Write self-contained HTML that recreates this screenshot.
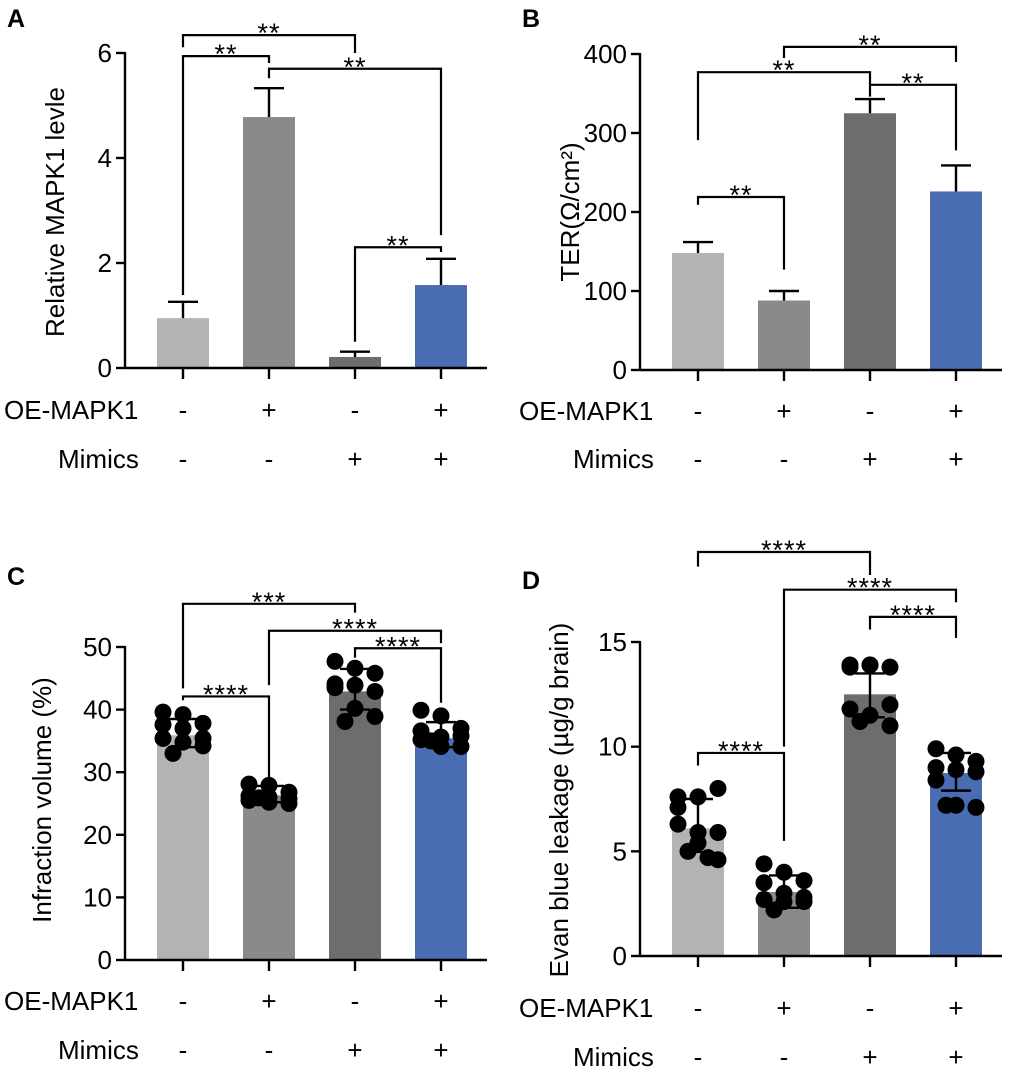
<!DOCTYPE html>
<html><head><meta charset="utf-8">
<style>
body{margin:0;background:#fff;}
svg{display:block;font-family:"Liberation Sans",Arial,sans-serif;}
</style></head>
<body>
<svg id="fig" width="1020" height="1072" viewBox="0 0 1020 1072" xmlns="http://www.w3.org/2000/svg"></svg>
<script>
// shared
const groupCategories = ["g1","g2","g3","g4"];
const oeSigns = ["-","+","-","+"];
const mimicSigns = ["-","-","+","+"];
const barColors = ["#b3b3b3","#8a8a8a","#6e6d6d","#4a6cb3"];

// Panel A
const aMeans = [0.95, 4.78, 0.21, 1.58];
const aErr = [0.31, 0.55, 0.10, 0.50];
const aTicks = [0, 2, 4, 6];
const aBrPairs = [[0,2],[0,1],[1,3],[2,3]];
const aBrY = [6.34, 5.94, 5.70, 2.30];
const aBrLegs = [[6.11,6.0],[1.39,5.81],[5.52,2.53],[0.50,2.21]];
const aBrText = ["**","**","**","**"];

// Panel B
const bMeans = [148, 88, 325, 226];
const bErr = [14, 12, 18, 33];
const bTicks = [0, 100, 200, 300, 400];
const bBrPairs = [[1,3],[0,2],[2,3],[0,1]];
const bBrY = [409, 377, 361, 219];
const bBrLegs = [[395,390],[291,362],[346,278],[209,127]];
const bBrText = ["**","**","**","**"];

// Panel C
const cMeans = [35.9, 26.3, 42.9, 35.4];
const cErrHi = [38.5, 27.8, 46.5, 38.0];
const cErrLo = [34.0, 25.2, 40.0, 34.0];
const cTicks = [0, 10, 20, 30, 40, 50];
const cPts1 = [39.6, 39.2, 37.8, 37.6, 37.0, 35.4, 35.4, 34.8, 34.2, 33.0];
const cPts2 = [28.1, 27.9, 26.8, 26.2, 26.0, 25.8, 25.5, 25.2, 25.0, 25.9];
const cPts3 = [47.7, 46.6, 45.8, 44.1, 43.9, 42.9, 43.5, 40.2, 38.9, 38.1];
const cPts4 = [39.9, 39.0, 37.0, 36.6, 35.6, 35.8, 35.2, 34.1, 34.1, 35.0];
const cBrPairs = [[0,2],[1,3],[2,3],[0,1]];
const cBrY = [56.9, 52.6, 49.8, 42.1];
const cBrLegs = [[43.4,55.5],[43.9,50.6],[48.3,41.1],[41.5,29.2]];
const cBrText = ["***","****","****","****"];

// Panel D
const dMeans = [6.1, 3.06, 12.5, 8.74];
const dErrHi = [7.5, 3.85, 13.5, 9.7];
const dErrLo = [4.97, 2.3, 11.4, 7.9];
const dTicks = [0, 5, 10, 15];
const dPts1 = [7.6, 7.6, 8.0, 7.1, 5.9, 5.9, 6.3, 5.4, 4.6, 5.0, 4.7];
const dPts2 = [4.4, 4.0, 3.6, 3.5, 3.0, 2.8, 2.7, 2.6, 2.6, 2.2];
const dPts3 = [13.9, 13.9, 13.8, 13.8, 13.9, 12.0, 11.8, 11.5, 11.0, 11.2];
const dPts4 = [9.9, 9.6, 9.3, 9.0, 8.9, 8.8, 8.4, 7.2, 7.1, 7.2];
const dBrPairs = [[0,2],[1,3],[2,3],[0,1]];
const dBrY = [19.3, 17.5, 16.2, 9.7];
const dBrLegs = [[18.6,18.2],[10.0,16.9],[15.6,15.2],[9.1,5.5]];
const dBrText = ["****","****","****","****"];

const NS = "http://www.w3.org/2000/svg";
const svg = document.getElementById("fig");
function mk(tag, attrs, parent){
  const e = document.createElementNS(NS, tag);
  for (const k in attrs) e.setAttribute(k, attrs[k]);
  (parent||svg).appendChild(e);
  return e;
}
const jitterX = [-20,0,20,-20,0,20,-20,0,20,-10,10];

function panel(cfg){
  const g = mk("g", {});
  
  
  const y = v => cfg.y0 - v * (cfg.y0 - cfg.yTop) / cfg.vmax;
  const xs = i => cfg.axX + 58 + i * 86;
  const L = mk("text", {x: cfg.letX, y: cfg.letY, "font-size": 25, "font-weight": "bold", fill: "#000"}, g);
  L.textContent = cfg.letter;
  
  
  cfg.means.forEach((m, i) => {
    const r = mk("rect", {x: xs(i) - 26, y: y(m), width: 52, height: cfg.y0 - y(m), fill: barColors[i]}, g);
    
    
  });
  if (cfg.pts) cfg.pts.forEach((arr, i) => {
    arr.forEach((v, j) => {
      const c = mk("circle", {cx: xs(i) + jitterX[j % jitterX.length], cy: y(v), r: 8.5, fill: "#000"}, g);
      
      
    });
  });
  cfg.means.forEach((m, i) => {
    const hi = cfg.hi[i], lo = cfg.lo ? cfg.lo[i] : m;
    const eg = mk("g", {stroke: "#000", "stroke-width": 2.4, fill: "none"}, g);
    
    
    mk("line", {x1: xs(i), x2: xs(i), y1: y(hi), y2: y(lo)}, eg);
    mk("line", {x1: xs(i) - 15, x2: xs(i) + 15, y1: y(hi), y2: y(hi)}, eg);
    if (cfg.lo) mk("line", {x1: xs(i) - 15, x2: xs(i) + 15, y1: y(lo), y2: y(lo)}, eg);
  });
  const ax = mk("g", {stroke: "#000", "stroke-width": 2.4}, g);
  
  
  mk("line", {x1: cfg.axX, x2: cfg.axX, y1: y(cfg.ticks[cfg.ticks.length - 1]) - 1, y2: cfg.y0 + 1}, ax);
  mk("line", {x1: cfg.axX, x2: cfg.axX + 362, y1: cfg.y0, y2: cfg.y0}, ax);
  cfg.ticks.forEach(t => {
    mk("line", {x1: cfg.axX - 9, x2: cfg.axX, y1: y(t), y2: y(t)}, ax);
    const tt = mk("text", {x: cfg.axX - 13, y: y(t) + 9, "font-size": 26, "text-anchor": "end", fill: "#000", stroke: "none"}, g);
    tt.textContent = t;
    
    
  });
  cfg.means.forEach((m, i) => mk("line", {x1: xs(i), x2: xs(i), y1: cfg.y0, y2: cfg.y0 + 11}, ax));
  const yt = mk("text", {x: 0, y: 0, "font-size": 26, "text-anchor": "middle", fill: "#000",
    transform: `translate(${cfg.titleX},${cfg.titleY}) rotate(-90)`}, g);
  yt.textContent = cfg.title;
  
  
  cfg.brPairs.forEach((p, k) => {
    const bg = mk("g", {}, g);
    
    
    const x1 = xs(p[0]), x2 = xs(p[1]), by = y(cfg.brY[k]);
    mk("polyline", {points: `${x1},${y(cfg.brLegs[k][0])} ${x1},${by} ${x2},${by} ${x2},${y(cfg.brLegs[k][1])}`,
      fill: "none", stroke: "#000", "stroke-width": 2.2}, bg);
    const st = mk("text", {x: (x1 + x2) / 2, y: by + 7, "font-size": 27, "text-anchor": "middle", fill: "#000", "letter-spacing": "1"}, bg);
    st.textContent = cfg.brText[k];
  });
  [[ "OE-MAPK1", oeSigns, cfg.row1Y, cfg.axX - 121],[ "Mimics", mimicSigns, cfg.row2Y, cfg.axX - 67]].forEach((row, r) => {
    const lt = mk("text", {x: row[3], y: row[2] + 9, "font-size": 26, fill: "#000"}, g);
    lt.textContent = row[0];
    
    
    row[1].forEach((s, i) => {
      const t = mk("text", {x: xs(i), y: row[2] + 9, "font-size": 26, "text-anchor": "middle", fill: "#000"}, g);
      t.textContent = s;
      
      
    });
  });
}

panel({name: "panel-a", letter: "A", letX: 7, letY: 27, axX: 125, y0: 368, yTop: 53, vmax: 6,
  means: aMeans, hi: aMeans.map((m, i) => m + aErr[i]), ticks: aTicks,
  brPairs: aBrPairs, brY: aBrY, brLegs: aBrLegs, brText: aBrText,
  title: "Relative MAPK1 levle", titleX: 64, titleY: 212, row1Y: 410, row2Y: 459});
panel({name: "panel-b", letter: "B", letX: 522, letY: 27, axX: 640, y0: 370, yTop: 54, vmax: 400,
  means: bMeans, hi: bMeans.map((m, i) => m + bErr[i]), ticks: bTicks,
  brPairs: bBrPairs, brY: bBrY, brLegs: bBrLegs, brText: bBrText,
  title: "TER(Ω/cm²)", titleX: 579, titleY: 212, row1Y: 411, row2Y: 459});
panel({name: "panel-c", letter: "C", letX: 7, letY: 585, axX: 125, y0: 960, yTop: 647, vmax: 50,
  means: cMeans, hi: cErrHi, lo: cErrLo, ticks: cTicks, pts: [cPts1, cPts2, cPts3, cPts4],
  brPairs: cBrPairs, brY: cBrY, brLegs: cBrLegs, brText: cBrText,
  title: "Infraction volume (%)", titleX: 51, titleY: 800, row1Y: 1001, row2Y: 1050});
panel({name: "panel-d", letter: "D", letX: 522, letY: 589, axX: 640, y0: 956, yTop: 642, vmax: 15,
  means: dMeans, hi: dErrHi, lo: dErrLo, ticks: dTicks, pts: [dPts1, dPts2, dPts3, dPts4],
  brPairs: dBrPairs, brY: dBrY, brLegs: dBrLegs, brText: dBrText,
  title: "Evan blue leakage (µg/g brain)", titleX: 568, titleY: 800, row1Y: 1008, row2Y: 1057});
</script>
</body></html>
